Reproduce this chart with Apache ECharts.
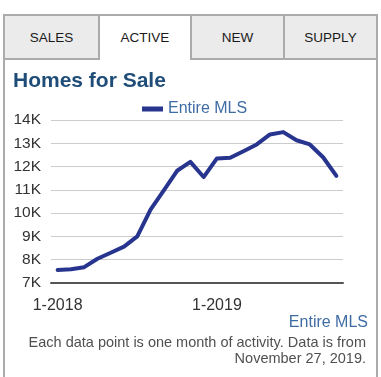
<!DOCTYPE html>
<html>
<head>
<meta charset="utf-8">
<script src="https://cdn.jsdelivr.net/npm/echarts@6/dist/echarts.min.js"></script>
<style>
  html, body { margin: 0; padding: 0; background: #fff; }
  body { width: 381px; height: 377px; position: relative; overflow: hidden; font-family: 'Liberation Sans', Arial, sans-serif; }
  .frame { position: absolute; left: 3px; top: 14px; width: 375px; height: 380px; border: 2px solid #ababab; box-sizing: border-box; }
  .tab { position: absolute; top: 14px; height: 46px; box-sizing: border-box; border: 2px solid #ababab; background: #ebebeb;
         font-size: 13.5px; color: #1a1a1a; text-align: center; line-height: 44px; }
  .tab.active { background: #fff; border-bottom: none; height: 46px; }
  #chart { position: absolute; left: 0; top: 0; width: 381px; height: 377px; }
</style>
</head>
<body>
<div class="frame"></div>
<div class="tab" style="left:3px;width:97px;">SALES</div>
<div class="tab active" style="left:98px;width:94px;">ACTIVE</div>
<div class="tab" style="left:190px;width:95px;">NEW</div>
<div class="tab" style="left:283px;width:95px;">SUPPLY</div>
<div id="chart"></div>
<script>
  // months Jan 2018 .. Oct 2019
  var months = ['1-2018','2-2018','3-2018','4-2018','5-2018','6-2018','7-2018','8-2018','9-2018','10-2018','11-2018','12-2018',
                '1-2019','2-2019','3-2019','4-2019','5-2019','6-2019','7-2019','8-2019','9-2019','10-2019'];
  // active listings, Entire MLS
  var entireMls = [7560, 7590, 7680, 8040, 8300, 8560, 9000, 10150, 10980, 11820, 12200, 11550,
                   12350, 12380, 12660, 12950, 13380, 13480, 13130, 12950, 12400, 11600];
  var yTicks = [7000, 14000, 1000];

  var font = "'Liberation Sans', Arial, sans-serif";
  var chart = echarts.init(document.getElementById('chart'));
  var option = {
    animation: false,
    title: {
      text: 'Homes for Sale',
      left: 13,
      top: 71,
      padding: 0,
      textStyle: { fontFamily: font, fontSize: 21, fontWeight: 'bold', color: '#1f4d78' }
    },
    legend: {
      left: 137,
      top: 96,
      icon: 'rect',
      itemWidth: 21,
      itemHeight: 5,
      itemGap: 8,
      data: ['Entire MLS'],
      textStyle: { fontFamily: font, fontSize: 16, color: '#3f6ca3' }
    },
    grid: { left: 51, right: 38, top: 120, bottom: 94 },
    xAxis: {
      type: 'category',
      data: months,
      boundaryGap: true,
      axisLine: { lineStyle: { color: '#555', width: 2 } },
      axisTick: {
        alignWithLabel: true,
        length: 5,
        lineStyle: { color: '#555', width: 2 },
        interval: function (i) { return i % 12 === 0; }
      },
      axisLabel: {
        interval: function (i) { return i % 12 === 0; },
        margin: 15,
        fontFamily: font,
        fontSize: 16,
        color: '#333'
      }
    },
    yAxis: {
      type: 'value',
      min: yTicks[0],
      max: yTicks[1],
      interval: yTicks[2],
      axisLine: { show: false },
      axisTick: { show: false },
      splitLine: { lineStyle: { color: '#cccccc', width: 1 } },
      axisLabel: {
        margin: 10,
        fontFamily: font,
        fontSize: 15.5,
        color: '#333',
        formatter: function (v) { return (v / 1000) + 'K'; }
      }
    },
    series: [
      {
        name: 'Entire MLS',
        type: 'line',
        data: entireMls,
        symbol: 'none',
        lineStyle: { color: '#27358f', width: 4, join: 'round', cap: 'round' },
        itemStyle: { color: '#27358f' }
      }
    ],
    graphic: [
      { type: 'text', right: 13, top: 315,
        style: { text: 'Entire MLS', font: '16px ' + font, fill: '#3f6ca3' } },
      { type: 'text', right: 15, top: 335,
        style: { text: 'Each data point is one month of activity. Data is from', font: '14.5px ' + font, fill: '#505050' } },
      { type: 'text', right: 15, top: 351,
        style: { text: 'November 27, 2019.', font: '14.5px ' + font, fill: '#505050' } }
    ]
  };
  chart.setOption(option);
</script>
</body>
</html>
